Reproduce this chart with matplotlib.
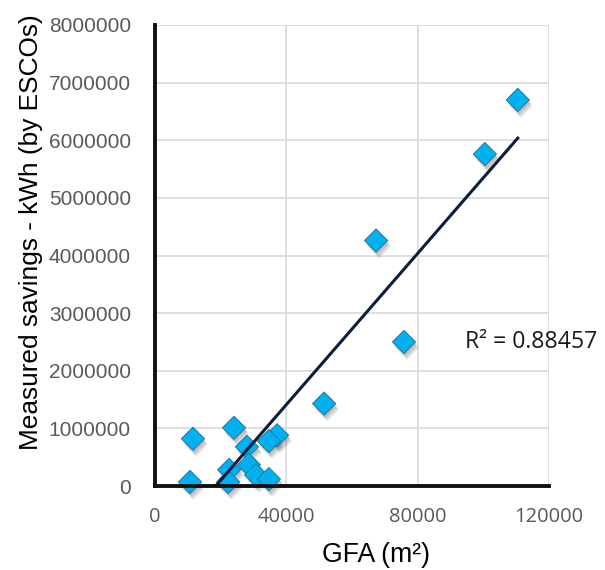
import numpy as np
import matplotlib
matplotlib.use("Agg")
import matplotlib.pyplot as plt
import matplotlib.patheffects as pe

gfa = [110500, 100500, 67400, 75900, 51600, 37300, 34800, 24200, 11700, 10800,
       22700, 22400, 28100, 28700, 30900, 34800]
savings = [6700000, 5760000, 4260000, 2500000, 1430000, 880000, 780000, 1010000, 820000, 70000,
           280000, 70000, 680000, 370000, 190000, 120000]
xticks = [0, 40000, 80000, 120000]
yticks = [0, 1000000, 2000000, 3000000, 4000000, 5000000, 6000000, 7000000, 8000000]
r2_label = "R² = 0.88457"

x = np.array(gfa, dtype=float)
y = np.array(savings, dtype=float)
slope, intercept = np.polyfit(x, y, 1)

fig = plt.figure(figsize=(6.05, 5.7), dpi=100)
ax = fig.add_axes([154.5/605, 1-486/570, (549-154.5)/605, (486-25)/570])

ax.set_xlim(0, 120000)
ax.set_ylim(0, 8000000)
ax.set_xticks(xticks)
ax.set_yticks(yticks)
ax.set_xticklabels([str(v) for v in xticks], family="Open Sans", fontsize=14.5, color="#595959")
ax.set_yticklabels([str(v) for v in yticks], family="Liberation Sans", fontsize=15, color="#595959")
ax.tick_params(axis='y', length=0, pad=17)
ax.tick_params(axis='x', length=0, pad=15)

ax.grid(True, color="#D9D9D9", linewidth=1.2)
ax.set_axisbelow(True)
for s in ["top", "right"]:
    ax.spines[s].set_visible(False)
for s in ["left", "bottom"]:
    ax.spines[s].set_linewidth(2.8)
    ax.spines[s].set_color("#111111")
    ax.spines[s].set_zorder(5)

shadow = [pe.SimplePatchShadow(offset=(0.8 + 0.4*i, -1.5 - 0.8*i), shadow_rgbFace="#555555", alpha=0.09)
          for i in range(5)]
ax.scatter(x, y, marker="D", s=140, color="#00B0F0", edgecolor="#1F6F8F", linewidth=0.6,
           zorder=3, clip_on=False, path_effects=shadow + [pe.Normal()])

xs = np.array([x.min(), x.max()])
ax.plot(xs, slope*xs + intercept, color="#0C1F3A", linewidth=2.2, zorder=4, clip_on=True)

r2 = ax.text(465/605, 1-342/570, r2_label, transform=fig.transFigure, family="Open Sans",
             fontsize=16, color="#1a1a1a", va="center", ha="left")

xl = fig.text(376/605, 1-555/570, "GFA (m²)", family="Liberation Sans", fontsize=18,
              ha="center", va="center")
yl = fig.text(31/605, 1-232/570, "Measured savings - kWh (by ESCOs)", family="Liberation Sans",
              fontsize=18, rotation=90, ha="center", va="center")

# scale text sizes to the measured extents in the reference
fig.canvas.draw()
r = fig.canvas.get_renderer()
for t, target, dim in [(r2, 132, "w"), (xl, 108, "w"), (yl, 437, "h")]:
    bb = t.get_window_extent(r)
    cur = bb.width if dim == "w" else bb.height
    t.set_fontsize(t.get_fontsize() * target / cur)

fig.savefig("out.png", dpi=100)
